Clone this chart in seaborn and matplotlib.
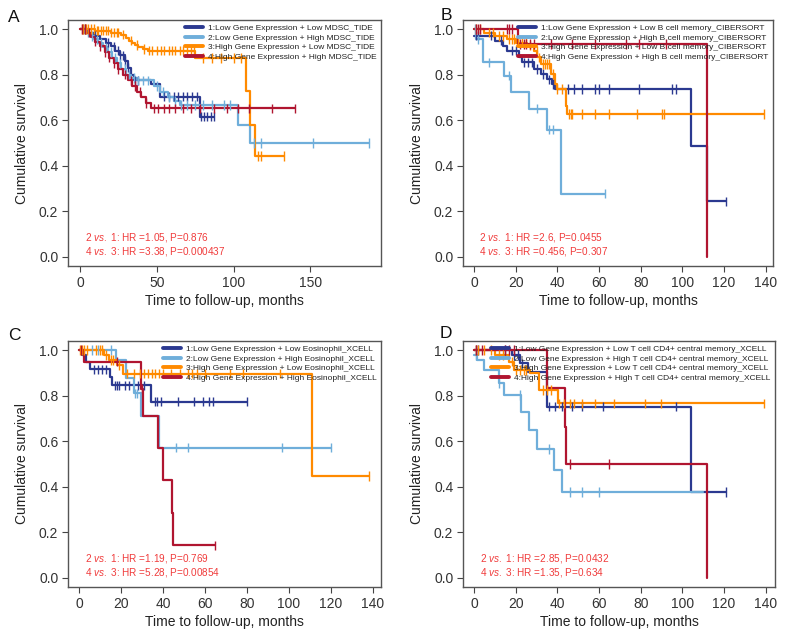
import numpy as np
import pandas as pd
import matplotlib
matplotlib.use("Agg")
import matplotlib.pyplot as plt
import seaborn as sns

sns.set_style("ticks")
plt.rcParams["font.family"] = ["Liberation Sans", "DejaVu Sans"]
plt.rcParams["mathtext.fontset"] = "custom"
plt.rcParams["mathtext.it"] = "Liberation Sans:italic"
plt.rcParams["mathtext.rm"] = "Liberation Sans"

COLORS = ["#2B3990", "#6FAEDA", "#FF8A00", "#B01530"]
STAT_COLOR = "#F03C3C"

# ---- Panel A: MDSC_TIDE ----
A_LABELS = ["1:Low Gene Expression + Low MDSC_TIDE",
            "2:Low Gene Expression + High MDSC_TIDE",
            "3:High Gene Expression + Low MDSC_TIDE",
            "4:High Gene Expression + High MDSC_TIDE"]
A1_T = [0, 5, 9, 13, 17, 20, 23, 26, 29, 31, 33, 35, 46, 52, 78]
A1_S = [1.0, 0.985, 0.97, 0.955, 0.94, 0.925, 0.905, 0.885, 0.86, 0.83, 0.80, 0.775, 0.76, 0.703, 0.615]
A1_C = [3, 10, 18, 22, 25, 26, 28, 29.5, 31.5, 36, 38, 55, 58, 61, 64, 67, 70, 73, 76, 79, 81, 83, 85, 87]
A1_END = 87
A2_T = [0, 3, 6, 9, 12, 15, 18, 21, 24, 27, 30, 33, 37, 48, 52, 57, 61, 65, 103, 111]
A2_S = [1.0, 0.985, 0.97, 0.955, 0.94, 0.92, 0.90, 0.875, 0.85, 0.825, 0.80, 0.785, 0.775, 0.75, 0.725, 0.70, 0.685, 0.667, 0.58, 0.50]
A2_C = [2, 5, 8, 11, 14, 17, 20, 23, 26, 29, 32, 35, 38, 41, 44, 50, 54, 58, 62, 66, 70, 75, 80, 86, 94, 98, 113, 118, 152, 188]
A2_END = 188
A3_T = [0, 10, 20, 27, 30, 32, 34, 36, 38, 41, 44, 75, 108, 111, 114]
A3_S = [1.0, 0.993, 0.985, 0.975, 0.96, 0.95, 0.94, 0.93, 0.92, 0.913, 0.905, 0.873, 0.73, 0.58, 0.443]
A3_C = [1, 2, 3, 4, 5, 7, 9, 11, 12, 14, 15, 17, 18, 20, 22, 24, 25, 28, 33, 37, 42, 45, 47, 50, 53,
        55, 58, 60, 62, 65, 67, 70, 72, 74, 80, 86, 92, 100, 105, 116, 118, 133]
A3_END = 133
A4_T = [0, 4, 7, 10, 13, 16, 19, 22, 25, 28, 31, 34, 37, 40, 43, 46]
A4_S = [1.0, 0.985, 0.965, 0.945, 0.925, 0.90, 0.875, 0.85, 0.825, 0.80, 0.775, 0.75, 0.725, 0.70, 0.675, 0.652]
A4_C = [1, 3, 6, 10, 13, 16, 19, 22, 25, 29, 33, 36, 39, 43, 48, 51, 55, 58, 62, 67, 72, 78, 87, 96, 103, 110, 125, 140]
A4_END = 140
A_STATS = ["2 $\\mathit{vs.}$ 1: HR =1.05, P=0.876", "4 $\\mathit{vs.}$ 3: HR =3.38, P=0.000437"]

# ---- Panel B: B cell memory_CIBERSORT ----
B_LABELS = ["1:Low Gene Expression + Low B cell memory_CIBERSORT",
            "2:Low Gene Expression + High B cell memory_CIBERSORT",
            "3:High Gene Expression + Low B cell memory_CIBERSORT",
            "4:High Gene Expression + High B cell memory_CIBERSORT"]
B1_T = [0, 10, 14, 16, 21.6, 23, 29, 32, 35, 37.6, 39, 104, 112]
B1_S = [0.971, 0.949, 0.927, 0.905, 0.876, 0.854, 0.825, 0.803, 0.78, 0.759, 0.737, 0.489, 0.244]
B1_C = [1, 2, 8, 13, 18, 20, 24, 26, 28, 30, 33, 36, 38, 45, 48, 52, 58, 60, 65, 79, 95, 97, 121]
B1_END = 121
B2_T = [0, 1, 4.5, 14.4, 17.6, 26.4, 35.2, 41.9]
B2_S = [1.0, 0.955, 0.854, 0.796, 0.723, 0.65, 0.559, 0.277]
B2_C = [0.5, 2, 7, 17, 30, 36, 38, 63]
B2_END = 63
B3_T = [0, 5, 10, 16, 20, 25.6, 28.8, 30.4, 32, 36.8, 39, 40, 44, 44.8]
B3_S = [1.0, 0.985, 0.97, 0.956, 0.94, 0.927, 0.905, 0.876, 0.847, 0.803, 0.759, 0.737, 0.664, 0.628]
B3_C = [1, 3, 7, 9, 12, 14, 17, 18, 19, 21, 23, 25, 27, 30, 31, 33, 34, 35, 36, 38, 40, 42,
        45.5, 46.5, 47, 52, 58, 65, 78, 90, 91, 139]
B3_END = 139
B4_T = [0, 21, 112]
B4_S = [1.0, 0.934, 0.0]
B4_C = [1, 2, 3, 16, 17, 18, 22, 24, 25, 27, 29, 37, 47, 58, 73, 79, 92]
B4_END = 112
B_STATS = ["2 $\\mathit{vs.}$ 1: HR =2.6, P=0.0455", "4 $\\mathit{vs.}$ 3: HR =0.456, P=0.307"]

# ---- Panel C: Eosinophil_XCELL ----
C_LABELS = ["1:Low Gene Expression + Low Eosinophil_XCELL",
            "2:Low Gene Expression + High Eosinophil_XCELL",
            "3:High Gene Expression + Low Eosinophil_XCELL",
            "4:High Gene Expression + High Eosinophil_XCELL"]
C1_T = [0, 1.6, 3.2, 5.2, 14.8, 15.9, 34.5]
C1_S = [1.0, 0.978, 0.949, 0.915, 0.883, 0.846, 0.773]
C1_C = [7, 9, 11, 13, 17, 18, 19, 22, 24, 28, 31, 36, 37, 39, 47, 55, 59, 62, 64, 80]
C1_END = 80
C2_T = [0, 17.5, 22.3, 26.2, 29.4, 38.2]
C2_S = [1.0, 0.956, 0.876, 0.81, 0.71, 0.572]
C2_C = [6, 9, 15, 26.5, 27.5, 46, 52, 97, 120]
C2_END = 120
C3_T = [0, 12, 14.3, 18.3, 20.7, 111.3]
C3_S = [1.0, 0.978, 0.956, 0.934, 0.897, 0.448]
C3_C = [0.5, 1.5, 2.5, 4, 8, 10, 11, 13, 15, 16, 19, 23, 26, 29, 31, 33, 35, 36, 38, 40,
        44, 48, 52, 54, 56, 60, 72, 78, 96, 138.5]
C3_END = 138.5
C4_T = [0, 2.4, 29.4, 30.5, 37.4, 40.2, 44.2, 44.8]
C4_S = [1.0, 0.949, 0.83, 0.71, 0.572, 0.429, 0.286, 0.143]
C4_C = [1, 18, 29.8, 65]
C4_END = 65
C_STATS = ["2 $\\mathit{vs.}$ 1: HR =1.19, P=0.769", "4 $\\mathit{vs.}$ 3: HR =5.28, P=0.00854"]

# ---- Panel D: T cell CD4+ central memory_XCELL ----
D_LABELS = ["1:Low Gene Expression + Low T cell CD4+ central memory_XCELL",
            "2:Low Gene Expression + High T cell CD4+ central memory_XCELL",
            "3:High Gene Expression + Low T cell CD4+ central memory_XCELL",
            "4:High Gene Expression + High T cell CD4+ central memory_XCELL"]
D1_T = [0, 18, 22, 26, 35, 104]
D1_S = [1.0, 0.978, 0.942, 0.905, 0.752, 0.377]
D1_C = [1, 2, 15, 19, 21, 23, 36, 39, 42, 47, 52, 62, 97, 121]
D1_END = 121
D2_T = [0, 1.6, 4.8, 12, 14.4, 22.4, 26.4, 30, 38.4, 42.4]
D2_S = [0.978, 0.956, 0.912, 0.854, 0.803, 0.73, 0.65, 0.566, 0.472, 0.377]
D2_C = [1, 12, 22, 36, 46, 52, 60]
D2_END = 110
D3_T = [0, 10, 17, 19, 27, 31, 40.5]
D3_S = [1.0, 0.978, 0.949, 0.912, 0.898, 0.825, 0.766]
D3_C = [1, 2, 5, 8, 12, 14, 18, 20, 22, 24, 25, 33, 35, 37, 41, 43, 46, 48, 52, 58, 67, 82, 90, 139]
D3_END = 139
D4_T = [0, 35.2, 43.5, 44.3, 112]
D4_S = [1.0, 0.832, 0.664, 0.5, 0.0]
D4_C = [1, 4, 15, 17, 19, 46, 65]
D4_END = 112
D_STATS = ["2 $\\mathit{vs.}$ 1: HR =2.85, P=0.0432", "4 $\\mathit{vs.}$ 3: HR =1.35, P=0.634"]


def km_frames(curves, labels):
    steps, cens = [], []
    for (t, s, c, end), lab in zip(curves, labels):
        t, s = list(t), list(s)
        if end > t[-1]:
            t.append(end)
            s.append(s[-1])
        steps.append(pd.DataFrame({"time": t, "surv": s, "group": lab}))
        # censor marks sit on the curve value at that time
        idx = np.searchsorted(t, c, side="right") - 1
        cens.append(pd.DataFrame({"time": c, "surv": np.array(s)[idx], "group": lab}))
    return pd.concat(steps), pd.concat(cens)


def draw_panel(ax, curves, labels, stats, xlim, xticks):
    steps, cens = km_frames(curves, labels)
    pal = dict(zip(labels, COLORS))
    sns.lineplot(data=steps, x="time", y="surv", hue="group", palette=pal,
                 drawstyle="steps-post", estimator=None, sort=False,
                 linewidth=1.6, ax=ax)
    sns.scatterplot(data=cens, x="time", y="surv", hue="group", palette=pal,
                    marker="|", s=45, linewidth=1.0, legend=False, ax=ax, zorder=3)

    handles, labs = ax.get_legend_handles_labels()
    leg = ax.legend(handles, labs, loc="upper right", frameon=False, fontsize=6.0,
                    handlelength=2.2, handletextpad=0.6, labelspacing=0.22,
                    borderaxespad=0.2, borderpad=0.3)
    for h in leg.get_lines():
        h.set_linewidth(2.8)
    for txt in leg.get_texts():
        txt.set_color("#222222")

    for i, s in enumerate(stats):
        ax.text(0.053, 0.115 - i * 0.056, s, transform=ax.transAxes,
                color=STAT_COLOR, fontsize=7.2, va="center", ha="left")

    ax.set_xlim(*xlim)
    ax.set_ylim(-0.04, 1.04)
    ax.set_xticks(xticks)
    ax.set_yticks(np.arange(0, 1.01, 0.2))
    ax.set_yticklabels([f"{v:.1f}" for v in np.arange(0, 1.01, 0.2)])
    ax.set_xlabel("Time to follow-up, months", fontsize=10, color="#222222", labelpad=3)
    ax.set_ylabel("Cumulative survival", fontsize=10, color="#222222", labelpad=7)
    ax.tick_params(length=4.5, width=0.8, color="#444444", labelcolor="#333333",
                   labelsize=10, pad=2.5)
    for sp in ax.spines.values():
        sp.set_visible(True)
        sp.set_color("#555555")
        sp.set_linewidth(1.0)


fig = plt.figure(figsize=(7.91, 6.38), dpi=100)
W, H = 791, 638

def add_ax(left, top, right, bottom):
    return fig.add_axes([left / W, 1 - bottom / H, (right - left) / W, (bottom - top) / H])

ax_a = add_ax(68, 20, 381, 266)
ax_b = add_ax(463, 20, 773, 266)
ax_c = add_ax(68, 341, 381, 587)
ax_d = add_ax(463, 341, 775, 587)

draw_panel(ax_a, [(A1_T, A1_S, A1_C, A1_END), (A2_T, A2_S, A2_C, A2_END),
                  (A3_T, A3_S, A3_C, A3_END), (A4_T, A4_S, A4_C, A4_END)],
           A_LABELS, A_STATS, (-7.8, 196), [0, 50, 100, 150])
draw_panel(ax_b, [(B1_T, B1_S, B1_C, B1_END), (B2_T, B2_S, B2_C, B2_END),
                  (B3_T, B3_S, B3_C, B3_END), (B4_T, B4_S, B4_C, B4_END)],
           B_LABELS, B_STATS, (-5.3, 143.5), list(range(0, 141, 20)))
draw_panel(ax_c, [(C1_T, C1_S, C1_C, C1_END), (C2_T, C2_S, C2_C, C2_END),
                  (C3_T, C3_S, C3_C, C3_END), (C4_T, C4_S, C4_C, C4_END)],
           C_LABELS, C_STATS, (-5.3, 144), list(range(0, 141, 20)))
draw_panel(ax_d, [(D1_T, D1_S, D1_C, D1_END), (D2_T, D2_S, D2_C, D2_END),
                  (D3_T, D3_S, D3_C, D3_END), (D4_T, D4_S, D4_C, D4_END)],
           D_LABELS, D_STATS, (-5.3, 144.5), list(range(0, 141, 20)))

for letter, x, y in [("A", 14, 17), ("B", 446, 15), ("C", 14, 336), ("D", 446, 334)]:
    fig.text(x / W, 1 - y / H, letter, fontsize=12.5, ha="center", va="center", color="#111111")

fig.savefig("out.png", dpi=100)
